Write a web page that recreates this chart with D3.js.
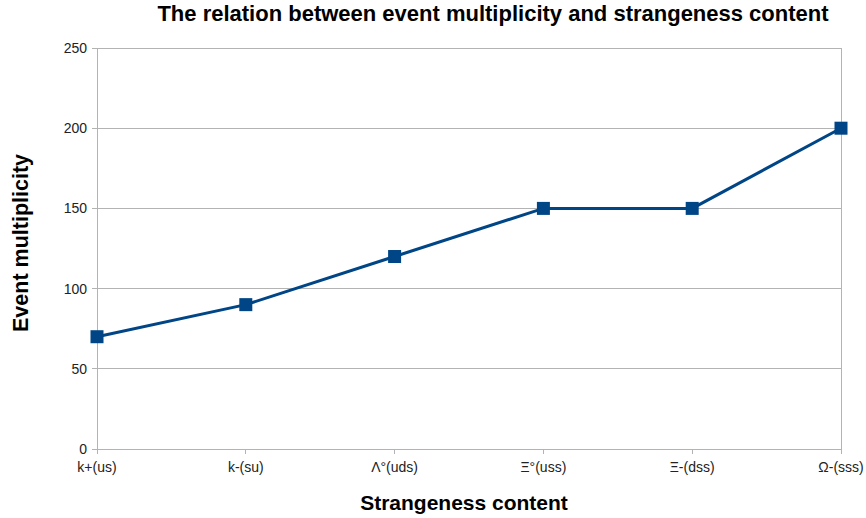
<!DOCTYPE html>
<html><head><meta charset="utf-8">
<script src="https://cdn.jsdelivr.net/npm/d3@7"></script>
<style>body{margin:0;background:#fff}svg{display:block}text{font-family:"Liberation Sans",Arial,sans-serif}</style>
</head><body>
<svg id="c" width="866" height="518"></svg>
<script>
const categories = ["k+(us)","k-(su)","\u039b\u00b0(uds)","\u039e\u00b0(uss)","\u039e-(dss)","\u03a9-(sss)"];
const values = [70, 90, 120, 150, 150, 200];
const yTicks = [0, 50, 100, 150, 200, 250];

(function(){
const svg = d3.select("#c");
const mLeft = 97, mRight = 841, mTop = 48, mBottom = 449;
const x = d3.scalePoint().domain(categories).range([mLeft, mRight]);
const y = d3.scaleLinear().domain([0, 250]).range([mBottom, mTop]);

svg.append("g").selectAll("line").data(yTicks).join("line")
  .attr("x1", mLeft - 5).attr("x2", mRight).attr("y1", d => y(d)).attr("y2", d => y(d))
  .attr("stroke", "#b3b3b3").attr("stroke-width", 1).attr("shape-rendering","crispEdges");
[mLeft, mRight].forEach(xx => svg.append("line").attr("x1", xx).attr("x2", xx).attr("y1", mTop).attr("y2", mBottom + 5)
  .attr("stroke", "#b3b3b3").attr("shape-rendering","crispEdges"));
svg.append("g").selectAll("line").data(categories).join("line")
  .attr("x1", d => x(d)).attr("x2", d => x(d)).attr("y1", mBottom).attr("y2", mBottom + 5)
  .attr("stroke", "#b3b3b3").attr("shape-rendering","crispEdges");
svg.append("g").selectAll("text").data(yTicks).join("text")
  .attr("x", 87).attr("y", d => y(d)).attr("dy", "0.35em").attr("text-anchor", "end")
  .attr("font-size", 14).attr("fill", "#222").text(d => d);
svg.append("g").selectAll("text").data(categories).join("text")
  .attr("x", d => x(d)).attr("y", 472).attr("text-anchor", "middle")
  .attr("font-size", 14).attr("fill", "#222").text(d => d);

const line = d3.line().x((d, i) => x(categories[i])).y(d => y(d));
svg.append("path").datum(values).attr("d", line).attr("fill", "none")
  .attr("stroke", "#004586").attr("stroke-width", 3);
svg.append("g").selectAll("rect").data(values).join("rect")
  .attr("x", (d, i) => x(categories[i]) - 6.5).attr("y", d => y(d) - 6.5)
  .attr("width", 13).attr("height", 13).attr("fill", "#004586");

svg.append("text").attr("x", 493).attr("y", 20.5).attr("text-anchor", "middle")
  .attr("font-size", 22).attr("font-weight", "bold").text("The relation between event multiplicity and strangeness content");
svg.append("text").attr("x", 464).attr("y", 510).attr("text-anchor", "middle")
  .attr("font-size", 21).attr("font-weight", "bold").text("Strangeness content");
svg.append("text").attr("transform", "translate(28,243) rotate(-90)").attr("text-anchor", "middle")
  .attr("font-size", 21.5).attr("font-weight", "bold").text("Event multiplicity");
})();
</script>
</body></html>
